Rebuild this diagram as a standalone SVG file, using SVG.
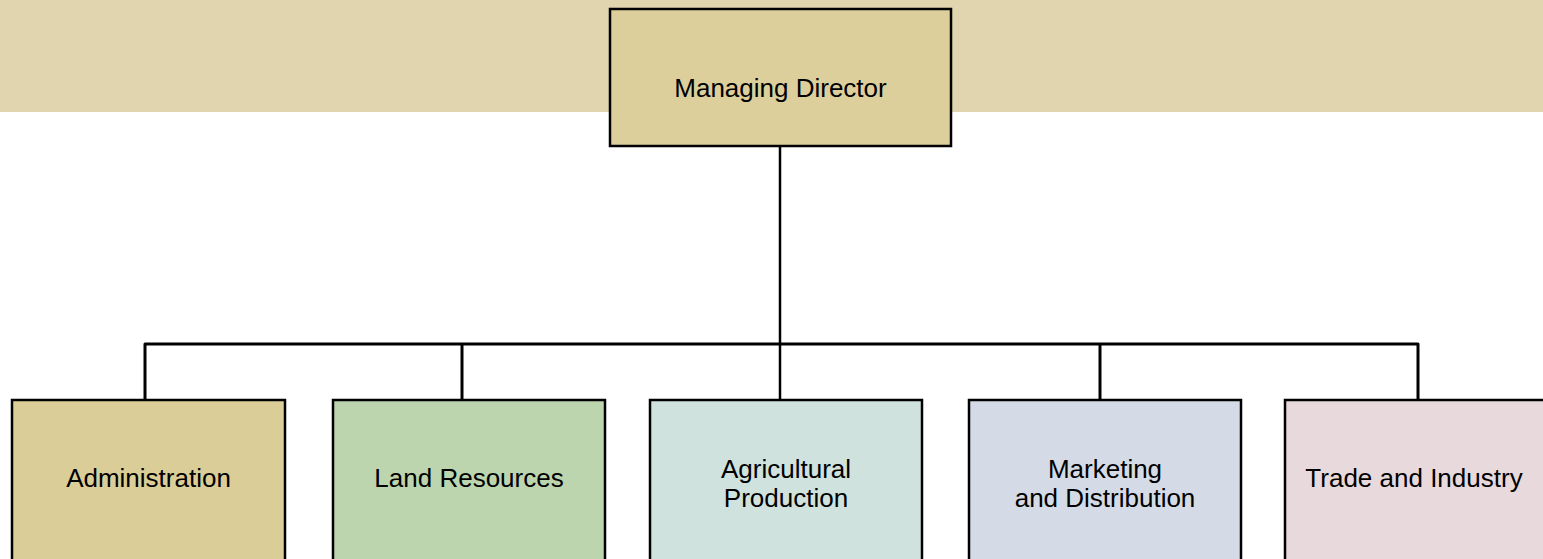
<svg xmlns="http://www.w3.org/2000/svg" width="1543" height="559" viewBox="0 0 1543 559">
  <style>
    .box { stroke: #000; stroke-width: 2.5; }
    .lbl { font-family: "Liberation Sans", Arial, sans-serif; font-size: 26px; fill: #000; text-anchor: middle; }
    .conn { fill: none; stroke: #000; stroke-width: 3; stroke-linejoin: round; }
  </style>
  <rect x="0" y="0" width="1543" height="112" fill="#e0d5ae"/>
  <g id="connectors">
    <path class="conn" d="M145,399 V344 H1418 V399"/>
    <path class="conn" d="M462,344 V399"/>
    <path class="conn" d="M1100,344 V399"/>
    <path class="conn" style="stroke-width:2.5" d="M780,146 V399"/>
  </g>
  <g id="managing-director">
    <rect class="box" x="610" y="9" width="341" height="137" fill="#dccf9b"/>
    <text class="lbl" x="780.5" y="97">Managing Director</text>
  </g>
  <g id="administration">
    <rect class="box" x="12" y="400" width="273" height="180" fill="#dbcd98"/>
    <text class="lbl" x="148.5" y="487">Administration</text>
  </g>
  <g id="land-resources">
    <rect class="box" x="333" y="400" width="272" height="180" fill="#bcd5ae"/>
    <text class="lbl" x="469" y="487">Land Resources</text>
  </g>
  <g id="agricultural-production">
    <rect class="box" x="650" y="400" width="272" height="180" fill="#cfe2de"/>
    <text class="lbl" x="786" y="478">Agricultural</text>
    <text class="lbl" x="786" y="507">Production</text>
  </g>
  <g id="marketing-distribution">
    <rect class="box" x="969" y="400" width="272" height="180" fill="#d5dbe6"/>
    <text class="lbl" x="1105" y="478">Marketing</text>
    <text class="lbl" x="1105" y="507">and Distribution</text>
  </g>
  <g id="trade-industry">
    <rect class="box" x="1285" y="400" width="290" height="180" fill="#e8d9dc"/>
    <text class="lbl" x="1414" y="487">Trade and Industry</text>
  </g>
</svg>
